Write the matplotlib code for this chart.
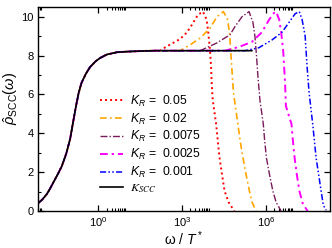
import numpy as np
import matplotlib
matplotlib.use("Agg")
import matplotlib.pyplot as plt
from matplotlib.ticker import FixedLocator, MultipleLocator, NullFormatter

plt.rcParams['font.family'] = ['Liberation Sans', 'DejaVu Sans']
plt.rcParams['mathtext.fontset'] = 'custom'
plt.rcParams['mathtext.rm'] = 'Liberation Sans'
plt.rcParams['mathtext.it'] = 'Liberation Sans:italic'
plt.rcParams['mathtext.bf'] = 'Liberation Sans:bold'

# K_SCC curve (log10 of omega/T*, spectral function)
scc_logw = [-2.16, -2.0, -1.84, -1.73, -1.6, -1.45, -1.31, -1.15, -1.01, -0.9, -0.8,
            -0.7, -0.6, -0.45, -0.3, -0.1, 0.06, 0.3, 0.67, 1.0, 1.5, 2.0, 3.0, 4.0, 5.0, 5.5]
scc_vals = [0.4, 0.6, 0.88, 1.15, 1.5, 1.9, 2.3, 2.95, 3.7, 4.6, 5.4,
            6.1, 6.6, 7.05, 7.4, 7.7, 7.87, 8.05, 8.17, 8.2, 8.23, 8.25, 8.25, 8.25, 8.25, 8.25]

# K_R curves: part after leaving the K_SCC plateau
kr_labels = ['0.05', '0.02', '0.0075', '0.0025', '0.001']
red_logw = [2.21, 2.45, 2.68, 2.93, 3.18, 3.36, 3.57, 3.75, 3.88, 3.94, 4.0, 4.04, 4.06, 4.1,
            4.22, 4.28, 4.34, 4.43, 4.52, 4.67, 4.87]
red_vals = [8.25, 8.47, 8.65, 8.85, 9.2, 9.6, 10.1, 10.26, 9.85, 9.17, 8.3, 7.4, 6.6, 5.7,
            4.48, 3.62, 2.76, 1.9, 1.05, 0.45, 0.0]
orange_logw = [2.93, 3.29, 3.65, 4.0, 4.25, 4.48, 4.62, 4.7, 4.78, 4.84,
               5.0, 5.08, 5.18, 5.29, 5.41, 5.51, 5.65]
orange_vals = [8.25, 8.55, 8.9, 9.4, 10.0, 10.26, 9.9, 9.2, 7.4, 6.1,
               4.48, 3.62, 2.76, 1.9, 1.05, 0.45, 0.0]
purple_logw = [3.65, 4.25, 4.72, 4.9, 5.15, 5.4, 5.54, 5.61, 5.65, 5.72, 5.79,
               5.91, 5.96, 6.02, 6.13, 6.25, 6.37, 6.55]
purple_vals = [8.25, 8.65, 9.07, 9.5, 10.0, 10.26, 9.7, 9.0, 8.3, 6.9, 5.7,
               4.48, 3.62, 2.76, 1.9, 1.05, 0.45, 0.0]
magenta_logw = [4.55, 5.05, 5.5, 5.86, 6.12, 6.3, 6.37, 6.48, 6.55, 6.62, 6.69, 6.72,
                6.92, 6.97, 7.03, 7.11, 7.2, 7.33, 7.5]
magenta_vals = [8.25, 8.45, 8.7, 9.2, 9.85, 10.2, 10.26, 9.85, 9.2, 8.3, 6.6, 5.4,
                4.48, 3.62, 2.76, 1.9, 1.05, 0.35, 0.0]
blue_logw = [5.25, 5.75, 6.22, 6.58, 6.83, 7.05, 7.2, 7.3, 7.41, 7.48, 7.55,
             7.68, 7.74, 7.8, 7.89, 7.98, 8.06, 8.16]
blue_vals = [8.25, 8.4, 8.8, 9.2, 9.7, 10.15, 10.26, 9.85, 9.0, 7.4, 6.1,
             4.48, 3.62, 2.76, 1.9, 1.05, 0.3, 0.05]

tails = [(red_logw, red_vals), (orange_logw, orange_vals), (purple_logw, purple_vals),
         (magenta_logw, magenta_vals), (blue_logw, blue_vals)]
colors = ['#ff0000', '#ffa500', '#7a1a5a', '#ff00ff', '#0000ff']
styles = [(0, (1, 1.6)), (0, (4, 2, 1, 2)), (0, (5, 1.5, 1, 1.5)),
          (0, (4, 2, 1.2, 2)), (0, (4, 1.5, 1, 1.5, 1, 1.5))]
widths = [1.4, 1.2, 1.0, 1.4, 1.1]

fig = plt.figure(figsize=(3.32, 2.48), dpi=100)
ax = fig.add_axes([0.1145, 0.149, 0.8795, 0.823])

for (tl, tv), lab, c, ls, lw in zip(tails, kr_labels, colors, styles, widths):
    head = [i for i, w in enumerate(scc_logw) if w < tl[0]]
    lw_all = [scc_logw[i] for i in head] + tl
    v_all = [scc_vals[i] for i in head] + tv
    ax.plot(10 ** np.array(lw_all), v_all, color=c, linestyle=ls, lw=lw,
            label=r'$K_R$ =  ' + lab)

ax.plot(10 ** np.array(scc_logw), scc_vals, color='black', lw=1.2, label=r'$K_{SCC}$')

ax.set_xscale('log')
ax.set_xlim(10 ** -2.16, 10 ** 8.3)
ax.set_ylim(0, 10.5)

ax.xaxis.set_major_locator(FixedLocator([1e-3, 1, 1e3, 1e6, 1e9]))
ax.set_xticklabels([r'$10^{-3}$', r'$10^{0}$', r'$10^{3}$', r'$10^{6}$', r'$10^{9}$'])
minors = [m * d for d in [1e-3, 1, 1e3, 1e6] for m in range(2, 10)]
ax.xaxis.set_minor_locator(FixedLocator(minors))
ax.xaxis.set_minor_formatter(NullFormatter())
ax.yaxis.set_major_locator(MultipleLocator(2))
ax.yaxis.set_minor_locator(MultipleLocator(1))

ax.tick_params(which='both', direction='in', top=True, right=True, labelsize=8, pad=3)
ax.tick_params(which='major', length=4, width=0.9)
ax.tick_params(which='minor', length=2, width=0.8)
for s in ax.spines.values():
    s.set_linewidth(1.0)

ax.set_xlabel(r'$\mathrm{\omega}$ / $T^*$', fontsize=10, labelpad=0)
ax.set_ylabel(r'$\hat{\rho}_{\mathrm{SCC}}(\omega)$', fontsize=10.5)
ax.yaxis.set_label_coords(-0.06, 0.55)

leg = ax.legend(loc='upper left', bbox_to_anchor=(0.212, 0.575), frameon=False,
                fontsize=8.8, handlelength=1.9, handletextpad=0.55, labelspacing=0.22,
                borderpad=0, borderaxespad=0)
leg.get_texts()[-1].set_math_fontfamily('stix')

fig.savefig('out.png', dpi=100)
